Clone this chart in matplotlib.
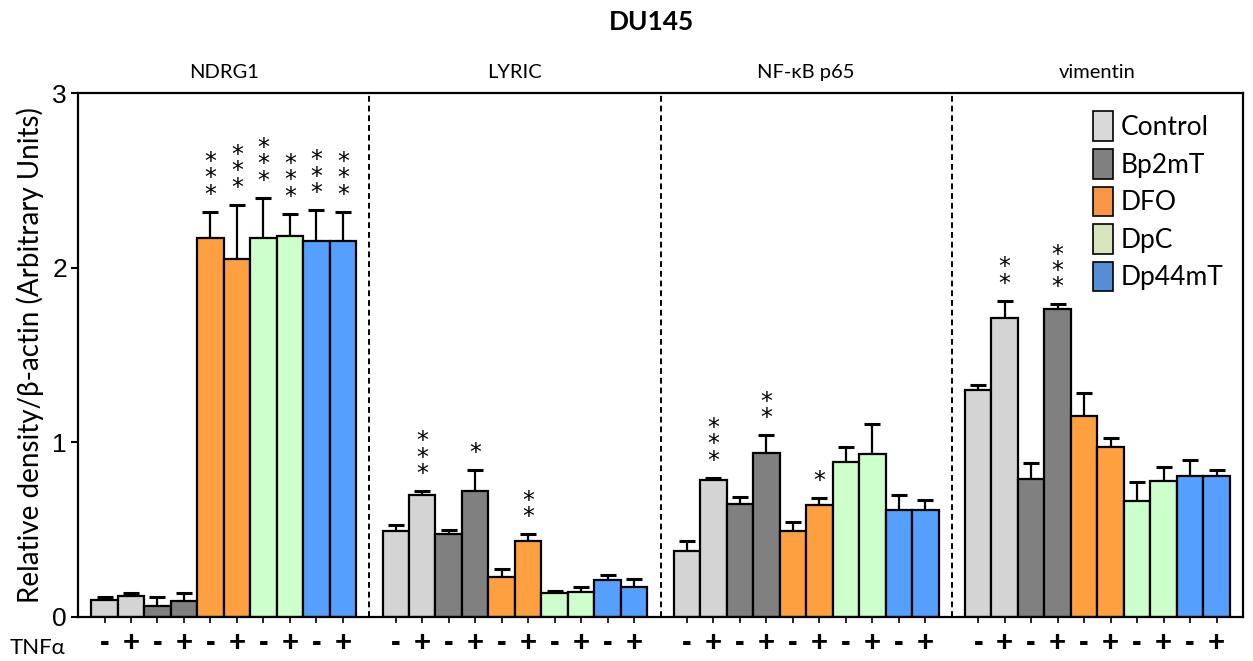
import numpy as np
import matplotlib.pyplot as plt
from matplotlib.patches import Patch

# данные
genes = ['NDRG1', 'LYRIC', 'NF-κB p65', 'vimentin']
treatments = ['Control', 'Bp2mT', 'DFO', 'DpC', 'Dp44mT']
tnf = ['-', '+'] * 5

ndrg1 = [0.10, 0.12, 0.065, 0.09, 2.17, 2.05, 2.17, 2.18, 2.15, 2.15]
ndrg1_err = [0.017, 0.017, 0.05, 0.05, 0.15, 0.31, 0.23, 0.13, 0.18, 0.17]
lyric = [0.49, 0.70, 0.475, 0.72, 0.23, 0.435, 0.135, 0.145, 0.21, 0.17]
lyric_err = [0.035, 0.02, 0.022, 0.12, 0.045, 0.04, 0.014, 0.027, 0.03, 0.045]
nfkb = [0.375, 0.785, 0.645, 0.94, 0.495, 0.64, 0.885, 0.935, 0.615, 0.61]
nfkb_err = [0.06, 0.012, 0.04, 0.10, 0.048, 0.04, 0.09, 0.17, 0.085, 0.06]
vim = [1.30, 1.71, 0.79, 1.765, 1.15, 0.975, 0.665, 0.78, 0.81, 0.81]
vim_err = [0.03, 0.10, 0.09, 0.025, 0.135, 0.05, 0.105, 0.08, 0.09, 0.03]

# число звездочек (значимость)
ndrg1_stars = [0, 0, 0, 0, 3, 3, 3, 3, 3, 3]
lyric_stars = [0, 3, 0, 1, 0, 2, 0, 0, 0, 0]
nfkb_stars = [0, 3, 0, 2, 0, 1, 0, 0, 0, 0]
vim_stars = [0, 2, 0, 3, 0, 0, 0, 0, 0, 0]

means = [ndrg1, lyric, nfkb, vim]
errs = [ndrg1_err, lyric_err, nfkb_err, vim_err]
stars = [ndrg1_stars, lyric_stars, nfkb_stars, vim_stars]

bar_colors = ['#d4d4d4', '#808080', '#ffa040', '#ccffcc', '#55a0ff']
leg_colors = ['#d9d9d9', '#808080', '#f79646', '#d7e4bd', '#558ed5']

txt_font = 'Lato'

fig = plt.figure(figsize=(12.53, 6.61), dpi=100)
ax = fig.add_axes([0.0623, 0.0666, 0.9297, 0.7927])

ticks = []
for g in range(4):
    x = g * 11 + np.arange(10)
    cols = [bar_colors[j // 2] for j in range(10)]
    ax.bar(x, means[g], width=1.0, color=cols, edgecolor='black', linewidth=1.6, zorder=2)
    ax.errorbar(x, means[g], yerr=[np.zeros(10), errs[g]], fmt='none', ecolor='black',
                elinewidth=1.6, capsize=6, capthick=2.2, zorder=1)
    for j in range(10):
        n = stars[g][j]
        if n:
            top = means[g][j] + errs[g][j]
            ax.annotate('\n'.join(['*'] * n), xy=(x[j], top), xytext=(0, 5),
                        textcoords='offset pixels', ha='center', va='bottom',
                        fontsize=17, linespacing=0.6, family='DejaVu Sans')
    ticks.extend(x)
    ax.text(g * 11 + 4.5, 3.12, genes[g], ha='center', va='center', fontsize=14.5, family=txt_font)
    if g < 3:
        ax.axvline(g * 11 + 10, color='black', linestyle=(0, (3, 2)), linewidth=1.4, zorder=0)

ax.set_xlim(-1, 43)
ax.set_ylim(0, 3)
ax.set_yticks([0, 1, 2, 3])
ax.set_yticklabels(['0', '1', '2', '3'], fontsize=19, family='Liberation Sans')
ax.set_xticks(ticks)
ax.set_xticklabels(tnf * 4, fontsize=21, fontweight='bold', family='Liberation Sans')
ax.tick_params(axis='x', length=4, width=1.2, pad=5)
ax.tick_params(axis='y', length=5, width=1.5, pad=3)
for s in ax.spines.values():
    s.set_linewidth(1.6)

ax.set_ylabel('Relative density/β-actin (Arbitrary Units)', fontsize=20, family=txt_font, labelpad=6)

handles = [Patch(facecolor=c, edgecolor='black', linewidth=1.2) for c in leg_colors]
ax.legend(handles, treatments, loc='upper right', bbox_to_anchor=(0.997, 0.995), frameon=False,
          prop={'family': txt_font, 'size': 19}, handlelength=0.75, handleheight=1.35,
          handletextpad=0.3, labelspacing=0.3, borderaxespad=0.2)

fig.text(0.008, 1 - 648 / 661, 'TNFα', fontsize=16, family=txt_font, va='center')
fig.text(0.52, 1 - 22 / 661, 'DU145', fontsize=19, fontweight='bold', family=txt_font,
         ha='center', va='center')

fig.savefig('out.png', dpi=100)
